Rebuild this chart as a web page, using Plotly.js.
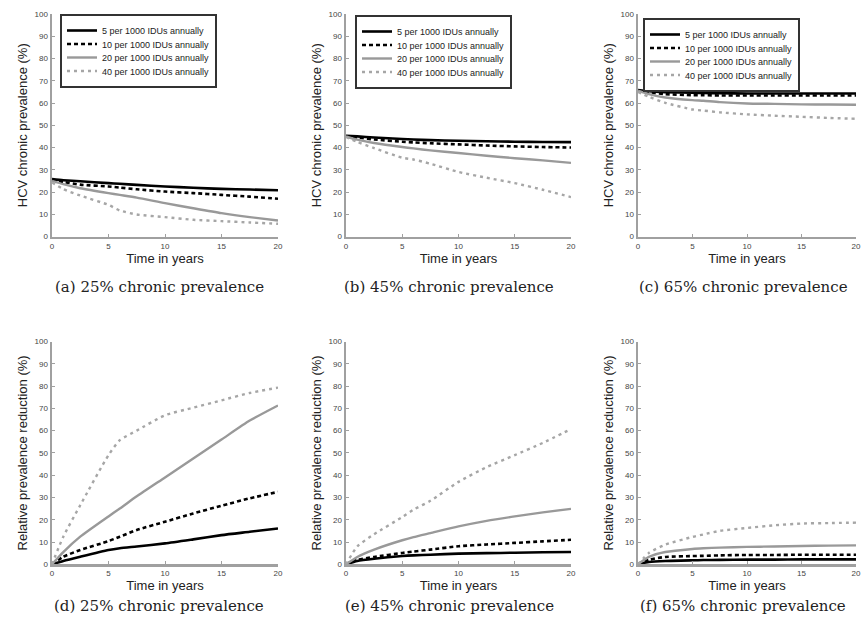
<!DOCTYPE html>
<html>
<head>
<meta charset="utf-8">
<script src="https://cdn.plot.ly/plotly-3.0.1.min.js"></script>
<style>html,body{margin:0;padding:0;background:#fff;}#chart{width:863px;height:624px;}</style>
</head>
<body>
<div id="chart"></div>
<script>
// Time points (years)
const years = [0, 1, 2.5, 5, 6, 7.5, 10, 12.5, 15, 17.5, 20];

// Series names
const seriesNames = [
  "5 per 1000 IDUs annually",
  "10 per 1000 IDUs annually",
  "20 per 1000 IDUs annually",
  "40 per 1000 IDUs annually"
];

// (a) 25% chronic prevalence - HCV chronic prevalence (%)
const a5  = [25.8, 25.3, 24.8, 24.0, 23.7, 23.2, 22.5, 21.9, 21.4, 21.1, 20.8];
const a10 = [25.3, 24.5, 23.3, 22.5, 22.0, 21.2, 20.2, 19.5, 18.7, 17.9, 17.0];
const a20 = [25.0, 23.5, 21.7, 19.5, 18.7, 17.5, 15.0, 12.7, 10.5, 8.7, 7.2];
const a40 = [24.3, 21.3, 18.4, 14.2, 11.7, 9.9, 8.7, 7.5, 6.9, 6.3, 5.7];

// (b) 45% chronic prevalence
const b5  = [45.3, 45.0, 44.5, 43.8, 43.6, 43.3, 43.0, 42.8, 42.6, 42.5, 42.4];
const b10 = [45.0, 44.5, 43.6, 42.6, 42.3, 41.9, 41.4, 40.9, 40.5, 40.2, 40.0];
const b20 = [45.0, 43.5, 42.0, 40.2, 39.6, 38.7, 37.5, 36.3, 35.2, 34.2, 33.1];
const b40 = [44.7, 42.5, 39.7, 35.4, 34.6, 32.7, 29.0, 26.4, 24.0, 21.0, 17.7];

// (c) 65% chronic prevalence
const c5  = [65.8, 65.3, 64.9, 64.6, 64.5, 64.4, 64.3, 64.3, 64.3, 64.3, 64.3];
const c10 = [65.5, 64.8, 64.0, 63.5, 63.5, 63.4, 63.4, 63.4, 63.4, 63.4, 63.4];
const c20 = [65.5, 64.0, 62.5, 61.3, 61.0, 60.4, 59.8, 59.6, 59.4, 59.3, 59.2];
const c40 = [65.0, 62.8, 60.1, 57.1, 56.6, 55.8, 54.9, 54.3, 53.8, 53.3, 52.9];

// (d) 25% - Relative prevalence reduction (%)
const d5  = [0, 1.5, 3.4, 6.4, 7.2, 8.0, 9.4, 11.2, 13.1, 14.6, 16.1];
const d10 = [0, 3.4, 6.4, 10.4, 12.4, 15.4, 19.1, 22.8, 26.3, 29.6, 32.5];
const d20 = [0, 5.5, 12.4, 21.5, 25.0, 30.5, 39.0, 47.5, 56.0, 64.5, 71.3];
const d40 = [0, 12.4, 26.5, 49.0, 55.7, 60.0, 66.9, 70.3, 73.6, 76.9, 79.3];

// (e) 45%
const e5  = [0, 1.5, 2.5, 3.7, 4.0, 4.3, 4.8, 5.0, 5.2, 5.4, 5.5];
const e10 = [0, 2.0, 3.3, 5.1, 5.7, 6.6, 8.1, 8.9, 9.6, 10.3, 11.0];
const e20 = [0, 3.3, 6.6, 10.8, 12.2, 14.0, 17.0, 19.5, 21.5, 23.3, 24.9];
const e40 = [0, 8.0, 13.5, 21.2, 24.5, 28.5, 37.0, 43.6, 49.0, 54.5, 60.7];

// (f) 65%
const f5  = [0, 1.0, 1.5, 1.8, 1.9, 2.0, 2.1, 2.1, 2.2, 2.2, 2.2];
const f10 = [0, 2.0, 3.3, 3.7, 3.8, 4.0, 4.2, 4.2, 4.3, 4.3, 4.3];
const f20 = [0, 3.3, 5.5, 6.9, 7.2, 7.5, 7.8, 8.0, 8.2, 8.4, 8.5];
const f40 = [0, 5.1, 8.8, 12.3, 13.4, 15.0, 16.3, 17.5, 18.3, 18.5, 18.7];

// Captions
const captions = [
  "(a) 25% chronic prevalence",
  "(b) 45% chronic prevalence",
  "(c) 65% chronic prevalence",
  "(d) 25% chronic prevalence",
  "(e) 45% chronic prevalence",
  "(f) 65% chronic prevalence"
];
const yTitleTop = "HCV chronic prevalence (%)";
const yTitleBottom = "Relative prevalence reduction (%)";
const xTitle = "Time in years";
const xTicks = [0, 5, 10, 15, 20];
const yTicks = [0, 10, 20, 30, 40, 50, 60, 70, 80, 90, 100];

// ---------- styling / layout ----------
const W = 863, H = 624;
const styles = [
  {color: '#000000', width: 2.6, dash: 'solid'},
  {color: '#000000', width: 2.6, dash: '4px,3px'},
  {color: '#999999', width: 2.4, dash: 'solid'},
  {color: '#a6a6a6', width: 2.4, dash: '3px,4px'}
];
const panels = [
  {data: [a5, a10, a20, a40], legend: 'legend'},
  {data: [b5, b10, b20, b40], legend: 'legend2'},
  {data: [c5, c10, c20, c40], legend: 'legend3'},
  {data: [d5, d10, d20, d40]},
  {data: [e5, e10, e20, e40]},
  {data: [f5, f10, f20, f40]}
];
const colPx = [[52, 278], [346, 571], [638, 856]];
const rowPx = [[14, 236.5], [341.5, 564.3]];
const captionCx = [159, 449, 743];
const captionCy = [287, 606];

const traces = [];
const layout = {
  width: W, height: H,
  margin: {l: 0, r: 0, t: 0, b: 0},
  paper_bgcolor: '#ffffff', plot_bgcolor: '#ffffff',
  font: {family: 'Liberation Sans, Arial, sans-serif', color: '#222'},
  annotations: [],
  showlegend: true
};

panels.forEach((p, i) => {
  const row = Math.floor(i / 3), col = i % 3;
  const n = i + 1;
  const xa = 'xaxis' + (n === 1 ? '' : n), ya = 'yaxis' + (n === 1 ? '' : n);
  const xr = 'x' + (n === 1 ? '' : n), yr = 'y' + (n === 1 ? '' : n);
  p.data.forEach((vals, k) => {
    const t = {
      x: years, y: vals, type: 'scatter', mode: 'lines',
      name: seriesNames[k], xaxis: xr, yaxis: yr,
      line: {color: styles[k].color, width: styles[k].width, dash: styles[k].dash, shape: 'spline', smoothing: 0.6},
      showlegend: !!p.legend, hoverinfo: 'skip'
    };
    if (p.legend) t.legend = p.legend;
    traces.push(t);
  });
  const axCommon = {
    showline: true, linecolor: '#a0a0a0', linewidth: 2.5,
    ticks: 'inside', ticklen: 3, tickwidth: 1, tickcolor: '#a0a0a0',
    showgrid: false, zeroline: false, mirror: false,
    tickfont: {size: 8, color: '#444', family: 'Liberation Sans, Arial, sans-serif'}
  };
  layout[xa] = Object.assign({}, axCommon, {
    domain: [colPx[col][0] / W, colPx[col][1] / W],
    range: [0, 20], tickvals: xTicks, anchor: yr,
    title: {text: xTitle, font: {size: 13, color: '#222'}, standoff: 4}
  });
  layout[ya] = Object.assign({}, axCommon, {
    domain: [1 - rowPx[row][1] / H, 1 - rowPx[row][0] / H],
    range: [0, 100], tickvals: yTicks, anchor: xr,
    title: {text: row === 0 ? yTitleTop : yTitleBottom, font: {size: 13, color: '#222'}, standoff: 4}
  });
  layout.annotations.push({
    text: captions[i], xref: 'paper', yref: 'paper',
    x: captionCx[col] / W, y: 1 - captionCy[row] / H, xanchor: 'center', yanchor: 'middle',
    showarrow: false, font: {family: 'DejaVu Serif, serif', size: 15, color: '#222'}
  });
});

const legendBase = {
  xref: 'paper', yref: 'paper', xanchor: 'left', yanchor: 'top',
  bgcolor: '#ffffff', bordercolor: '#333333', borderwidth: 2,
  font: {size: 9, color: '#222', family: 'Liberation Sans, Arial, sans-serif'},
  itemwidth: 30, tracegroupgap: 0
};
layout.legend = Object.assign({}, legendBase, {x: 60 / W, y: 1 - 14 / H});
layout.legend2 = Object.assign({}, legendBase, {x: 355 / W, y: 1 - 15 / H});
layout.legend3 = Object.assign({}, legendBase, {x: 643 / W, y: 1 - 18 / H});

// Tighten legend row spacing to match the compact reference legends
function compactLegend(id, step) {
  const g = document.querySelector('.infolayer g.' + id);
  if (!g) return;
  const items = g.querySelectorAll('g.traces');
  if (items.length < 2) return;
  const re = /translate\(\s*([-\d.e]+)[ ,]+([-\d.e]+)\s*\)/;
  const m0 = re.exec(items[0].getAttribute('transform') || '');
  const m1 = re.exec(items[1].getAttribute('transform') || '');
  if (!m0 || !m1) return;
  const x0 = +m0[1], y0 = +m0[2], oldStep = +m1[2] - y0;
  if (!(oldStep > step)) return;
  items.forEach((it, i) => it.setAttribute('transform', 'translate(' + x0 + ',' + (y0 + i * step) + ')'));
  const bg = g.querySelector('rect.bg');
  if (bg) {
    const h = +bg.getAttribute('height');
    bg.setAttribute('height', h - (oldStep - step) * (items.length - 1));
  }
}

Plotly.newPlot('chart', traces, layout, {staticPlot: true, displayModeBar: false}).then(() => {
  ['legend', 'legend2', 'legend3'].forEach(id => compactLegend(id, 13.5));
});
</script>
</body>
</html>
